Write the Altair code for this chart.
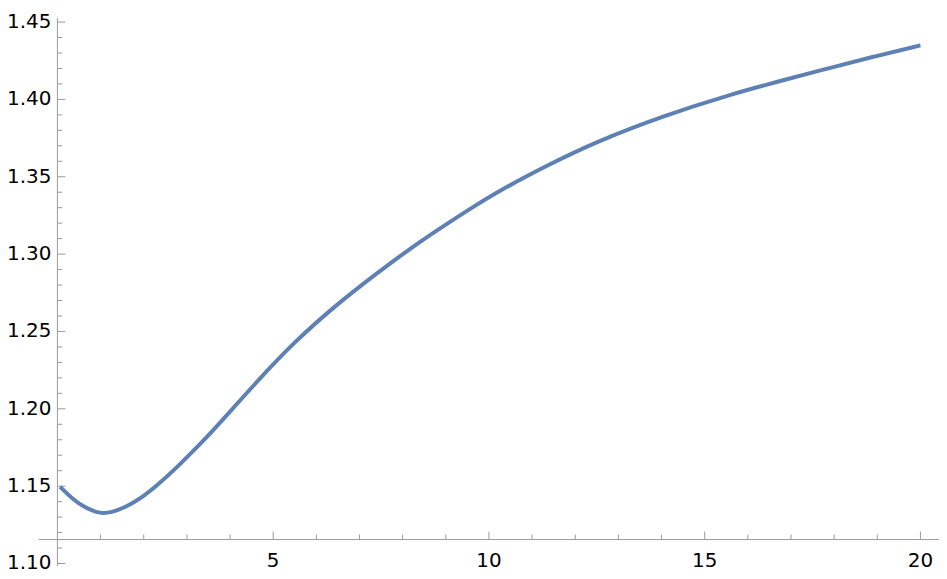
import altair as alt
import pandas as pd

# ---- data ----
x_vals = [0.06, 0.33, 0.64, 1.0, 1.25, 1.55, 1.94, 2.32, 2.70, 3.09, 3.55, 4.02,
          4.62, 5.46, 6.53, 7.76, 8.67, 9.67, 10.21, 11.36, 12.50, 14.04, 15.56,
          17.10, 17.86, 18.93, 20.0]
y_vals = [1.1496, 1.1422, 1.1359, 1.1321, 1.1331, 1.1359, 1.1422, 1.1507, 1.1603,
          1.1711, 1.1843, 1.1988, 1.2175, 1.2425, 1.2690, 1.2953, 1.3132, 1.3312,
          1.3405, 1.3575, 1.3728, 1.3893, 1.4030, 1.4145, 1.4200, 1.4278, 1.4349]

x_major = [5, 10, 15, 20]
x_major_labels = ["5", "10", "15", "20"]
x_minor = [1, 2, 3, 4, 6, 7, 8, 9, 11, 12, 13, 14, 16, 17, 18, 19]
y_major = [1.10, 1.15, 1.20, 1.25, 1.30, 1.35, 1.40, 1.45]
y_major_labels = ["1.10", "1.15", "1.20", "1.25", "1.30", "1.35", "1.40", "1.45"]
y_minor = [1.11, 1.12, 1.13, 1.14, 1.16, 1.17, 1.18, 1.19, 1.21, 1.22, 1.23, 1.24,
           1.26, 1.27, 1.28, 1.29, 1.31, 1.32, 1.33, 1.34, 1.36, 1.37, 1.38, 1.39,
           1.41, 1.42, 1.43, 1.44]

x_domain = [-0.43, 20.43]
y_domain = [1.0985, 1.4525]
x_axis_at = 1.1155   # y value where the horizontal axis crosses
y_axis_at = 0.0      # x value where the vertical axis crosses

W, H = 904, 550
AXC = "#9a9a9a"
FONT = "DejaVu Sans"
LINE = "#5E81B5"

# data units per pixel, used to give the ticks a fixed on-screen length
x_per_px = (x_domain[1] - x_domain[0]) / W
y_per_px = (y_domain[1] - y_domain[0]) / H

xs = alt.Scale(domain=x_domain, nice=False, zero=False)
ys = alt.Scale(domain=y_domain, nice=False, zero=False)

df = pd.DataFrame({"x": x_vals, "y": y_vals})

curve = alt.Chart(df).mark_line(
    color=LINE, strokeWidth=4, interpolate="basis", strokeCap="butt"
).encode(
    x=alt.X("x:Q", scale=xs, axis=None),
    y=alt.Y("y:Q", scale=ys, axis=None),
)

# axis lines, spanning the whole plot range
x_axis_line = alt.Chart(pd.DataFrame({
    "a": [x_domain[0]], "b": [x_domain[1]], "w": [x_axis_at]
})).mark_rule(color=AXC, strokeWidth=1).encode(
    x=alt.X("a:Q", scale=xs, axis=None), x2="b:Q",
    y=alt.Y("w:Q", scale=ys, axis=None),
)

y_axis_line = alt.Chart(pd.DataFrame({
    "a": [y_domain[0]], "b": [y_domain[1]], "w": [y_axis_at]
})).mark_rule(color=AXC, strokeWidth=1).encode(
    y=alt.Y("a:Q", scale=ys, axis=None), y2="b:Q",
    x=alt.X("w:Q", scale=xs, axis=None),
)


def xticks(vals, length):
    d = pd.DataFrame({
        "v": vals,
        "a": [x_axis_at] * len(vals),
        "b": [x_axis_at + length * y_per_px] * len(vals),
    })
    return alt.Chart(d).mark_rule(color=AXC, strokeWidth=1).encode(
        x=alt.X("v:Q", scale=xs, axis=None),
        y=alt.Y("a:Q", scale=ys, axis=None), y2="b:Q",
    )


def yticks(vals, length):
    d = pd.DataFrame({
        "v": vals,
        "a": [y_axis_at] * len(vals),
        "b": [y_axis_at + length * x_per_px] * len(vals),
    })
    return alt.Chart(d).mark_rule(color=AXC, strokeWidth=1).encode(
        y=alt.Y("v:Q", scale=ys, axis=None),
        x=alt.X("a:Q", scale=xs, axis=None), x2="b:Q",
    )


x_labels = alt.Chart(pd.DataFrame({
    "v": x_major, "t": x_major_labels, "w": [x_axis_at] * len(x_major)
})).mark_text(
    align="center", baseline="top", dy=12, fontSize=20, font=FONT, color="black"
).encode(
    x=alt.X("v:Q", scale=xs, axis=None),
    y=alt.Y("w:Q", scale=ys, axis=None),
    text="t:N",
)

y_labels = alt.Chart(pd.DataFrame({
    "v": y_major, "t": y_major_labels, "w": [y_axis_at] * len(y_major)
})).mark_text(
    align="right", baseline="middle", dx=-6, fontSize=20, font=FONT, color="black"
).encode(
    x=alt.X("w:Q", scale=xs, axis=None),
    y=alt.Y("v:Q", scale=ys, axis=None),
    text="t:N",
)

chart = alt.layer(
    x_axis_line, y_axis_line,
    xticks(x_major, 8), xticks(x_minor, 5),
    yticks(y_major, 8), yticks(y_minor, 5),
    x_labels, y_labels,
    curve,
).properties(
    width=W, height=H,
    background="white",
    autosize=alt.AutoSizeParams(type="none"),
    padding={"left": 31, "top": 9, "right": 0, "bottom": 14},
).configure_view(strokeWidth=0, stroke="transparent")

chart.save("out.html", embed_options={"renderer": "svg", "actions": False})
